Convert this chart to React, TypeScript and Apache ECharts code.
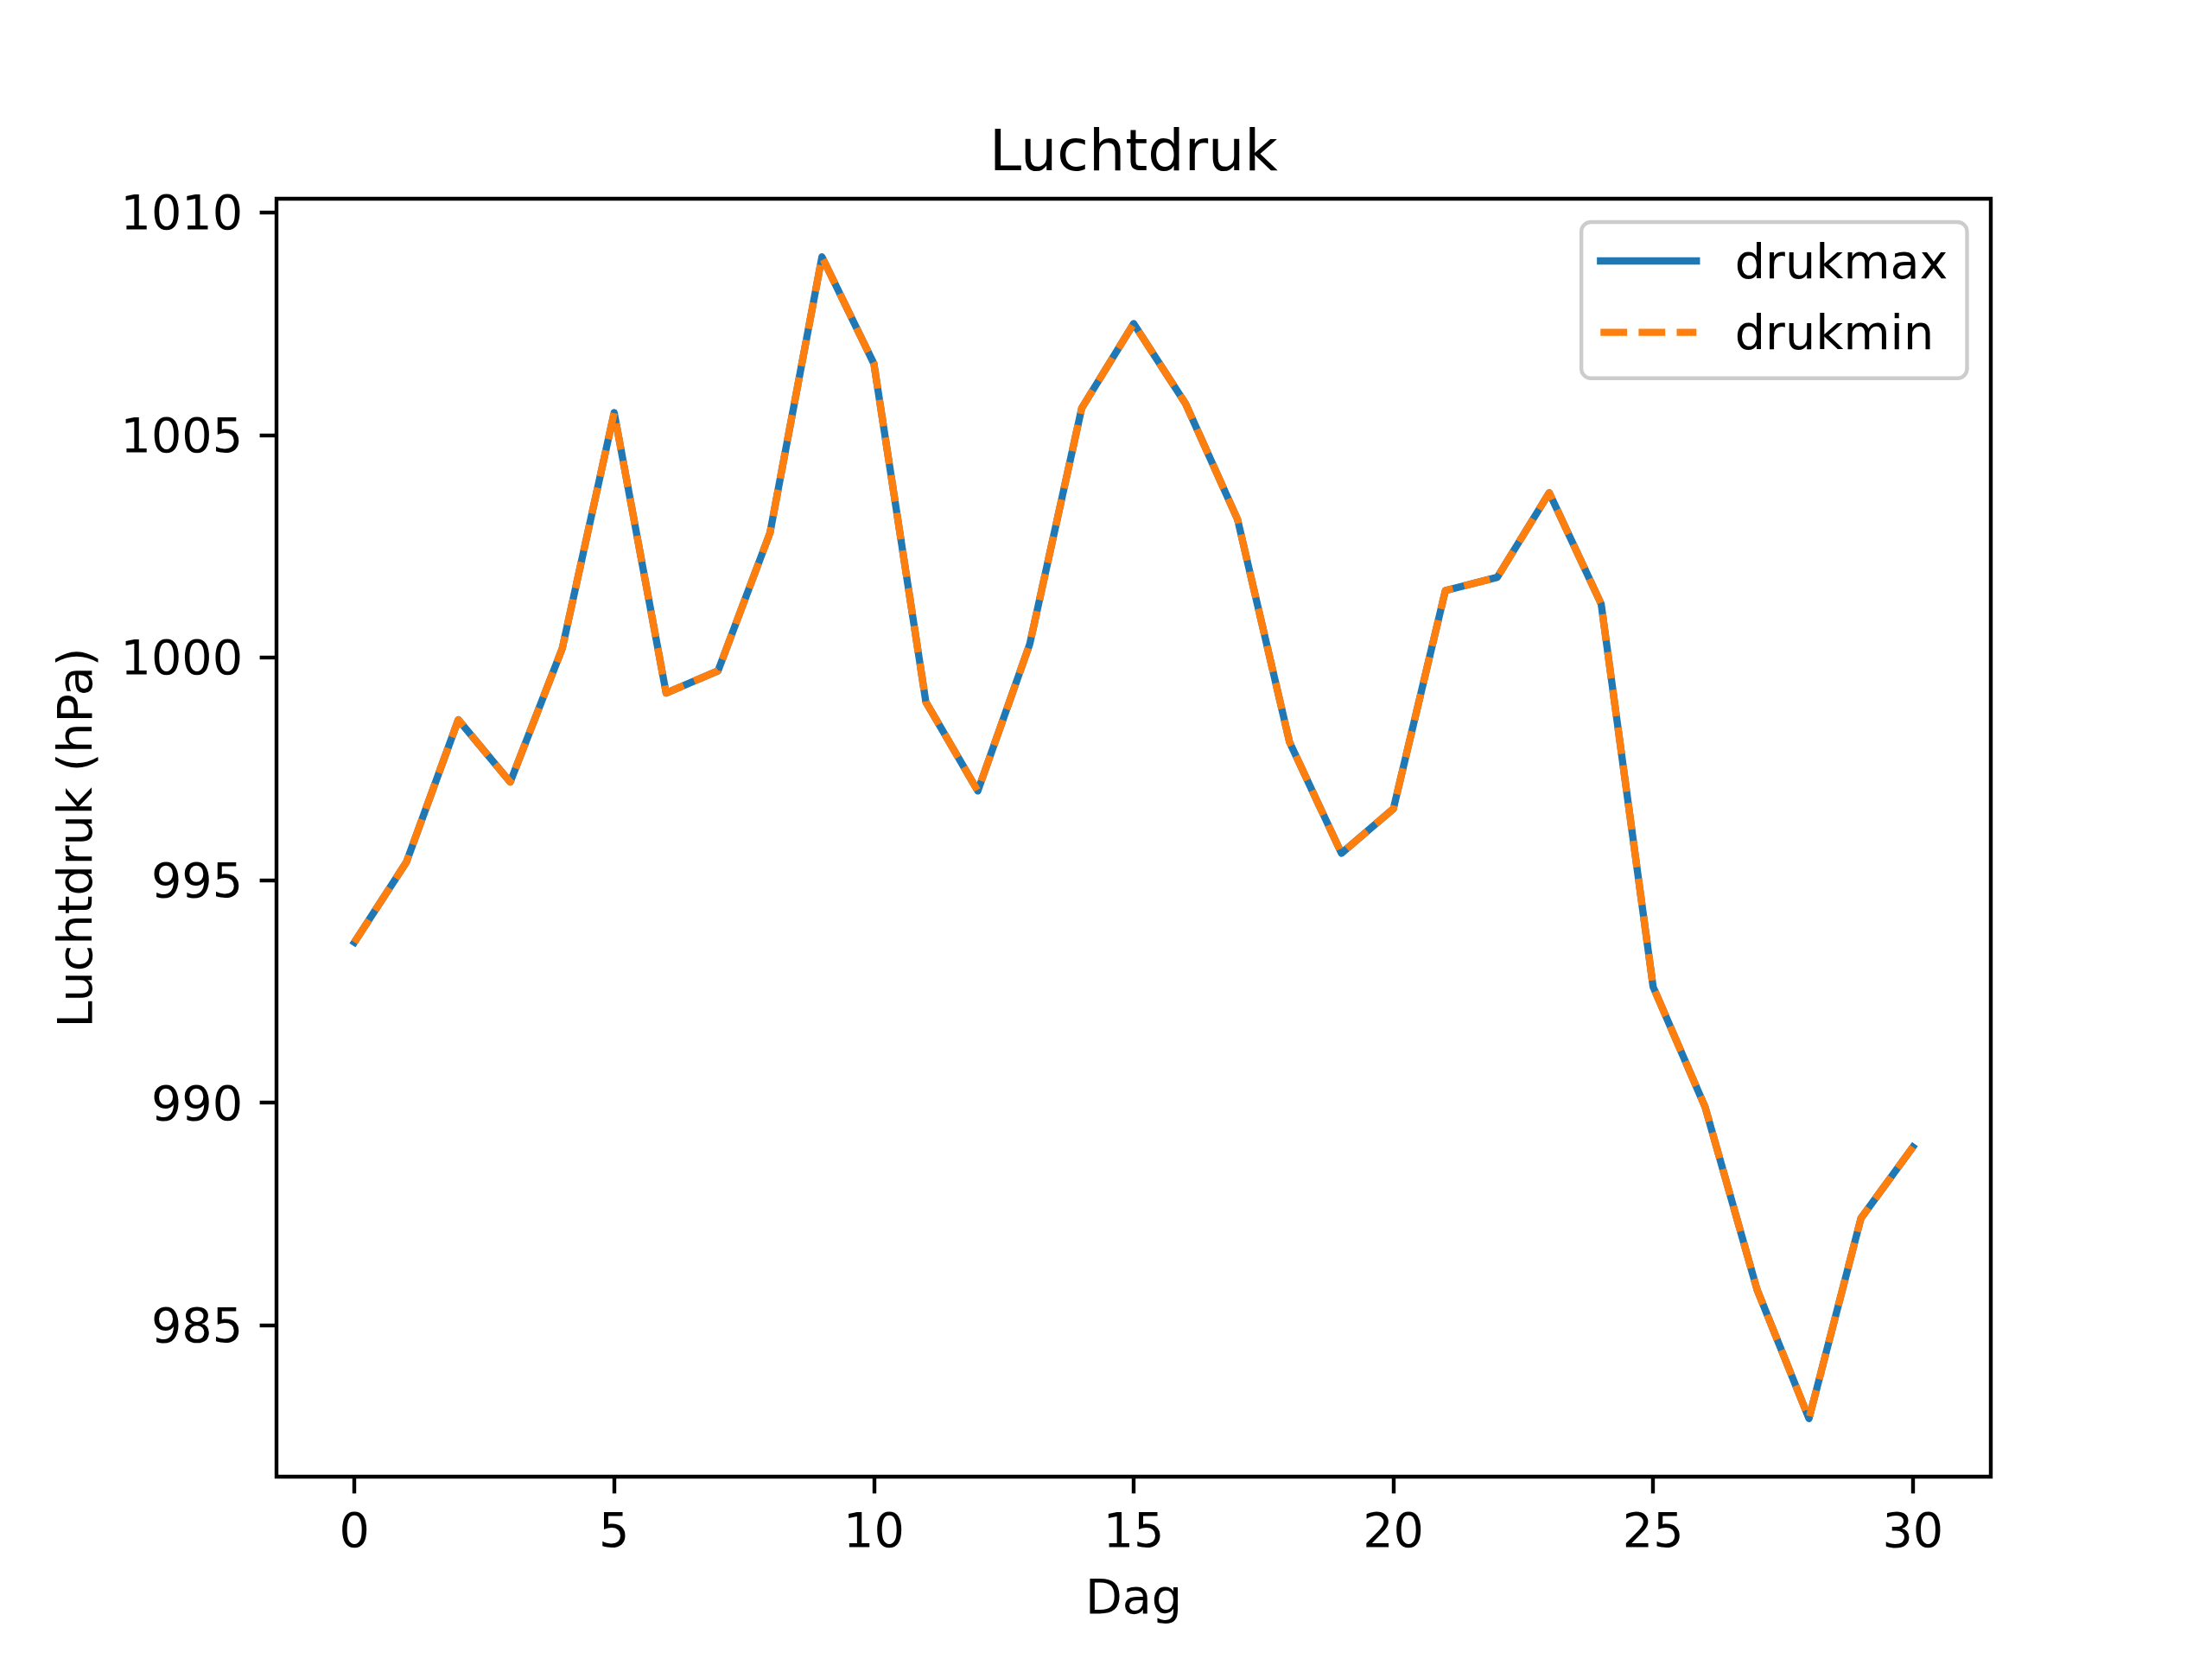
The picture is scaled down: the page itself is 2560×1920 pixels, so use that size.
import React, { useEffect, useRef } from "react";
import * as echarts from "echarts";

const days = [0, 1, 2, 3, 4, 5, 6, 7, 8, 9, 10, 11, 12, 13, 14, 15, 16, 17, 18, 19, 20, 21, 22, 23, 24, 25, 26, 27, 28, 29, 30];
const drukmax = [993.6, 995.4, 998.6, 997.2, 1000.2, 1005.5, 999.2, 999.7, 1002.8, 1009.0, 1006.6, 999.0, 997.0, 1000.3, 1005.6, 1007.5, 1005.7, 1003.1, 998.1, 995.6, 996.6, 1001.5, 1001.8, 1003.7, 1001.2, 992.6, 989.9, 985.8, 982.9, 987.4, 989.0];
const drukmin = [993.6, 995.4, 998.6, 997.2, 1000.2, 1005.5, 999.2, 999.7, 1002.8, 1009.0, 1006.6, 999.0, 997.0, 1000.3, 1005.6, 1007.5, 1005.7, 1003.1, 998.1, 995.6, 996.6, 1001.5, 1001.8, 1003.7, 1001.2, 992.6, 989.9, 985.8, 982.9, 987.4, 989.0];
const xTicks = [0, 5, 10, 15, 20, 25, 30];
const yTicks = [985, 990, 995, 1000, 1005, 1010];
const xLimits = [-1.5, 31.5];
const yLimits = [981.595, 1010.305];

const FONT = "DejaVu Sans";

export default function App() {
  const ref = useRef<HTMLDivElement>(null);
  useEffect(() => {
    document.body.style.margin = "0";
    if (!ref.current) return;
    const chart = echarts.init(ref.current, null, { renderer: "svg" });
    const tickStyle = { color: "#000", width: 4.4 };
    const labelBase = { fontSize: 55.6, color: "#000", fontFamily: FONT };
    const plain = (v: number) => String(v);
    chart.setOption({
      animation: false,
      backgroundColor: "#ffffff",
      grid: {
        left: 320,
        top: 230,
        width: 1984,
        height: 1479,
        show: true,
        borderColor: "#000",
        borderWidth: 4.4,
        backgroundColor: "transparent",
        containLabel: false,
        outerBoundsMode: "none",
      },
      xAxis: {
        type: "value",
        min: xLimits[0],
        max: xLimits[1],
        axisLine: { show: false, onZero: false },
        splitLine: { show: false },
        axisTick: { show: true, inside: false, length: 19.4, lineStyle: tickStyle, customValues: xTicks },
        axisLabel: { ...labelBase, customValues: xTicks, margin: 61.8, verticalAlign: "middle", formatter: plain },
      },
      yAxis: {
        type: "value",
        min: yLimits[0],
        max: yLimits[1],
        axisLine: { show: false, onZero: false },
        splitLine: { show: false },
        axisTick: { show: true, inside: false, length: 19.4, lineStyle: tickStyle, customValues: yTicks },
        axisLabel: { ...labelBase, customValues: yTicks, margin: 38.9, verticalAlign: "middle", align: "right", formatter: plain },
      },
      legend: {
        orient: "vertical",
        align: "left",
        right: 283.5,
        top: 257,
        data: ["drukmax", "drukmin"],
        itemWidth: 111,
        itemHeight: 50,
        itemGap: 26.7,
        padding: [17, 22, 25, 18],
        backgroundColor: "rgba(255,255,255,0.8)",
        borderColor: "#cccccc",
        borderWidth: 4.4,
        borderRadius: 11,
        selectedMode: false,
        textStyle: { ...labelBase, padding: [0, 0, 0, 39.5] },
        itemStyle: { opacity: 0 },
        lineStyle: { width: 8.33 },
      },
      graphic: [
        {
          type: "text",
          x: 1312,
          y: 173.9,
          style: {
            text: "Luchtdruk",
            fontSize: 66.7,
            fontFamily: FONT,
            fill: "#000",
            align: "center",
            verticalAlign: "middle",
            textAlign: "center",
            textVerticalAlign: "middle",
          },
        },
        {
          type: "text",
          x: 1312,
          y: 1847.8,
          style: {
            text: "Dag",
            fontSize: 55.6,
            fontFamily: FONT,
            fill: "#000",
            align: "center",
            verticalAlign: "middle",
            textAlign: "center",
            textVerticalAlign: "middle",
          },
        },
        {
          type: "text",
          x: 86.8,
          y: 969.5,
          rotation: Math.PI / 2,
          style: {
            text: "Luchtdruk (hPa)",
            fontSize: 55.6,
            fontFamily: FONT,
            fill: "#000",
            align: "center",
            verticalAlign: "middle",
            textAlign: "center",
            textVerticalAlign: "middle",
          },
        },
      ],
      series: [
        {
          name: "drukmax",
          type: "line",
          data: days.map((d, i) => [d, drukmax[i]]),
          symbol: "none",
          showSymbol: false,
          itemStyle: { color: "#1f77b4" },
          lineStyle: { color: "#1f77b4", width: 8.33, cap: "square", join: "round" },
          z: 2,
        },
        {
          name: "drukmin",
          type: "line",
          data: days.map((d, i) => [d, drukmin[i]]),
          symbol: "none",
          showSymbol: false,
          itemStyle: { color: "#ff7f0e" },
          lineStyle: { color: "#ff7f0e", width: 8.33, type: [30.8, 13.3], dashOffset: 0, cap: "butt", join: "round" },
          z: 3,
        },
      ],
    });
    return () => chart.dispose();
  }, []);
  return <div ref={ref} style={{ width: 2560, height: 1920, position: "absolute", left: 0, top: 0 }} />;
}
